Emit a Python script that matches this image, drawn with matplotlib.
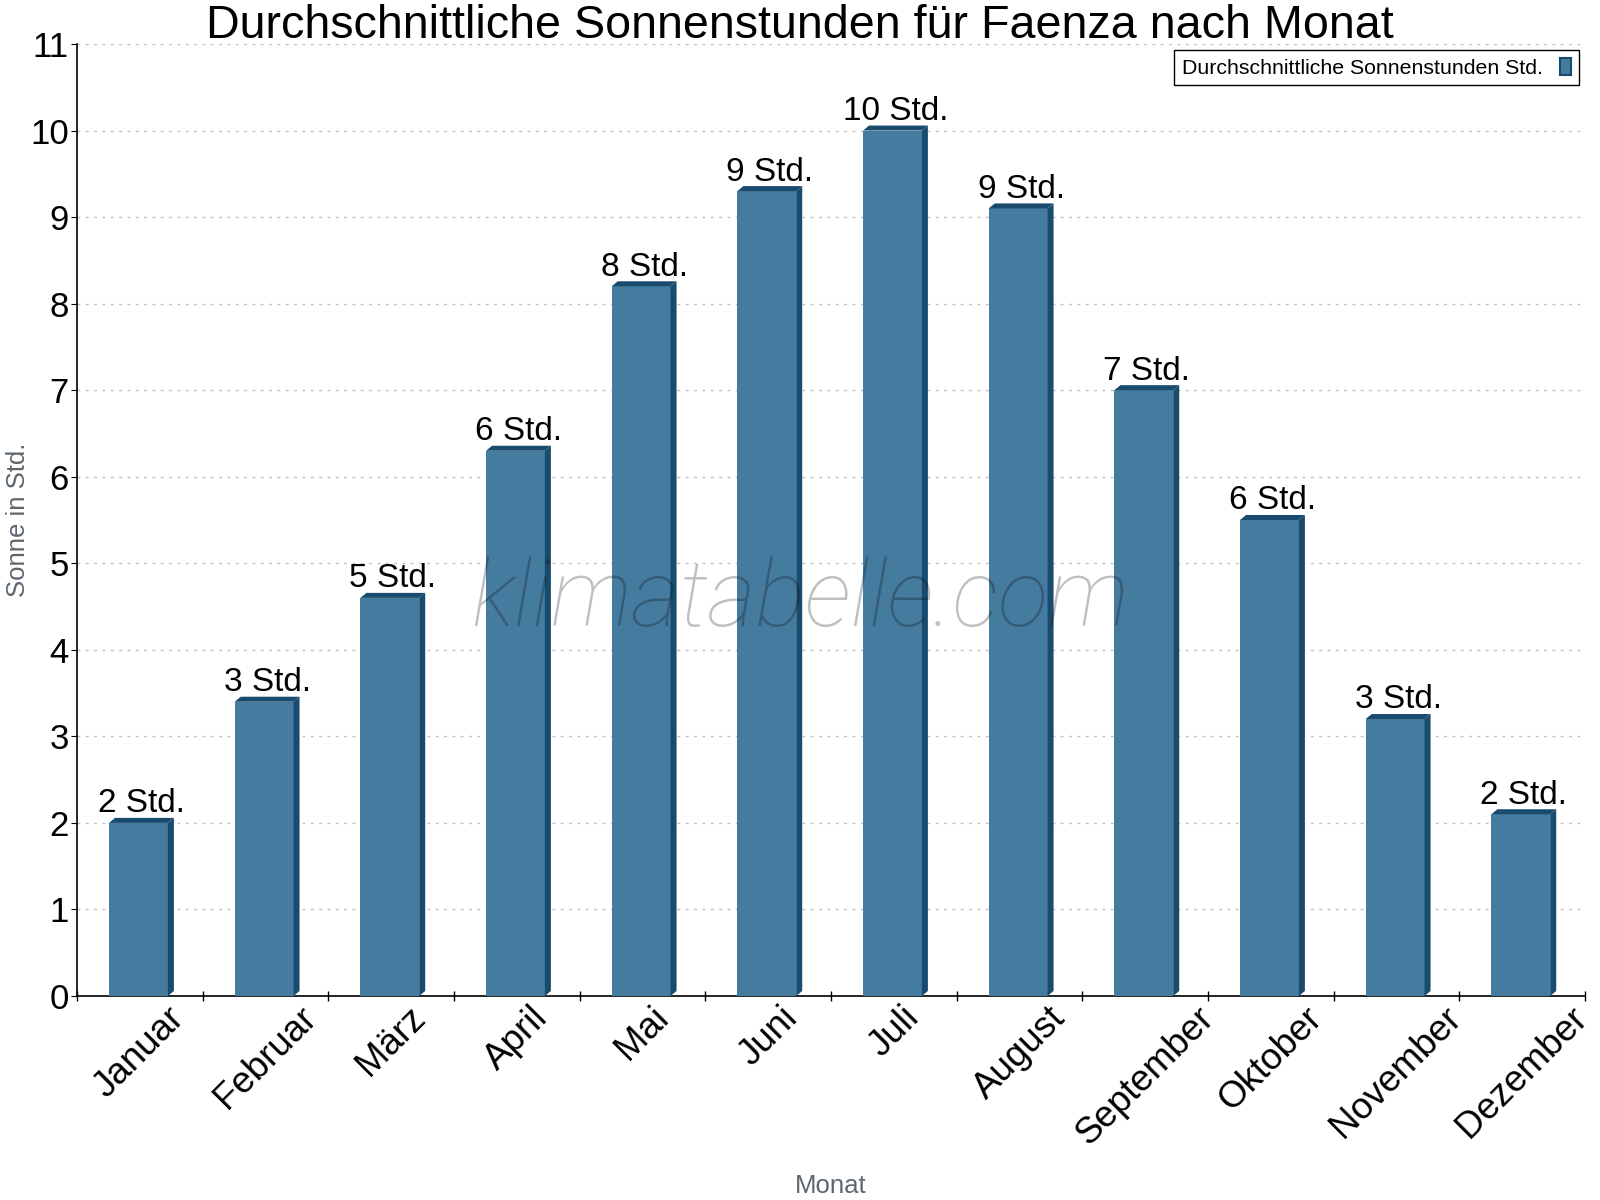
import matplotlib
matplotlib.use("Agg")
import matplotlib.pyplot as plt
from matplotlib.patches import Polygon, Patch
import numpy as np

plt.rcParams['font.family'] = ['Liberation Sans', 'DejaVu Sans']

months = ["Januar", "Februar", "März", "April", "Mai", "Juni", "Juli",
          "August", "September", "Oktober", "November", "Dezember"]
sun_hours = [2.0, 3.4, 4.6, 6.3, 8.2, 9.3, 10.0, 9.1, 7.0, 5.5, 3.2, 2.1]
y_ticks = list(range(0, 12))

title = "Durchschnittliche Sonnenstunden für Faenza nach Monat"
legend_label = "Durchschnittliche Sonnenstunden Std."

front_col = "#467ba0"
side_col = "#194b6e"
label_col = "#5d6770"

fig = plt.figure(figsize=(16, 12), dpi=100)
ax = fig.add_axes([77 / 1600, 1 - 996 / 1200, (1585 - 77) / 1600, (996 - 44) / 1200])

x = np.arange(len(months))
w = 0.468
off = -0.011
dx, dy = 0.048, 0.058

# front faces via bar, top + side faces as polygons for the 3d look
ax.bar(x + off, sun_hours, width=w, color=front_col, zorder=3)
for xi, v in zip(x, sun_hours):
    x0 = xi + off - w / 2
    x1 = xi + off + w / 2
    top = Polygon([(x0, v), (x0 + dx, v + dy), (x1 + dx, v + dy), (x1, v)],
                  closed=True, facecolor=side_col, edgecolor="none", zorder=3)
    side = Polygon([(x1, 0), (x1 + dx, dy), (x1 + dx, v + dy), (x1, v)],
                   closed=True, facecolor=side_col, edgecolor="none", zorder=3)
    ax.add_patch(top)
    ax.add_patch(side)
    ax.annotate(f"{int(v + 0.5)} Std.", (xi + off + dx / 2, v + dy),
                xytext=(0, 4), textcoords="offset points",
                ha="center", va="baseline", fontsize=24, zorder=4)

ax.set_xlim(-0.5, len(months) - 0.5)
ax.set_ylim(0, 11)
ax.set_yticks(y_ticks)
ax.set_xticks(x)
ax.set_xticklabels(months, rotation=45, ha="center", va="top")
ax.set_xticks(np.arange(-0.5, len(months), 1.0), minor=True)
ax.tick_params(axis="x", which="major", length=0, pad=3, labelsize=26.5)
ax.tick_params(axis="x", which="minor", length=7, direction="inout", width=1)
ax.tick_params(axis="y", which="major", length=4, direction="out", labelsize=25, pad=2)

ax.grid(axis="y", color="#c0c0c0", linestyle=(0, (2, 4)), linewidth=1, zorder=0)
ax.spines["top"].set_visible(False)
ax.spines["right"].set_visible(False)
ax.spines["left"].set_linewidth(1.2)
ax.spines["bottom"].set_linewidth(1.2)

ax.set_xlabel("Monat", fontsize=18.5, color=label_col)
ax.xaxis.set_label_coords(0.5, -0.207)
ax.xaxis.label.set_va("baseline")
ax.set_ylabel("Sonne in Std.", fontsize=18.5, color=label_col)
ax.yaxis.set_label_coords(-0.039, 0.5)
ax.yaxis.label.set_va("center")

fig.text(0.5, 1 - 38 / 1200, title, ha="center", va="baseline", fontsize=33.6)

handle = Patch(facecolor=front_col, edgecolor=side_col, linewidth=1.5)
leg = ax.legend([handle], [legend_label], loc="upper right", bbox_to_anchor=(1.0, 1.0),
                fontsize=15.3, markerfirst=False, fancybox=False, framealpha=1,
                edgecolor="black", handlelength=0.55, handleheight=0.9,
                handletextpad=0.8, borderaxespad=0.3, borderpad=0.35)
leg.get_frame().set_linewidth(1)

fig.text(800 / 1600, 1 - 626 / 1200, "klimatabelle.com", ha="center", va="baseline",
         fontsize=67, family="Roboto", fontweight="light", style="italic",
         color="black", alpha=0.25, zorder=10)

fig.savefig("out.png", dpi=100)
